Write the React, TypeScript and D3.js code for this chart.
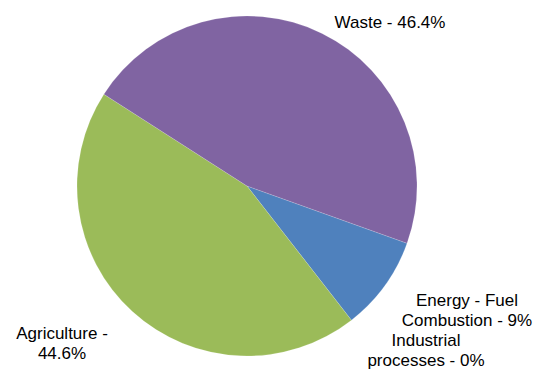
import React from "react";
import * as d3 from "d3";

const categories = ["Energy - Fuel Combustion", "Industrial processes", "Agriculture", "Waste"];
const values = [9.0, 0.0, 44.6, 46.4];
const labelLines = [
  ["Energy - Fuel", "Combustion - 9%"],
  ["Industrial", "processes - 0%"],
  ["Agriculture -", "44.6%"],
  ["Waste - 46.4%"],
];
const colors = ["#4F81BD", "#C0504D", "#9BBB59", "#8064A2"];

// label layout (center x, first baseline y)
const labelPos = [
  { x: 467, y: 305.5 },
  { x: 426, y: 345.5 },
  { x: 62, y: 339 },
  { x: 390, y: 28 },
];

const W = 536;
const H = 370;
const cx = 247;
const cy = 186;
const R = 170;
const startDeg = 109.7;

export default function App() {
  const data = categories.map((c, i) => ({ c, v: values[i], i }));
  const pie = d3
    .pie<any>()
    .value((d) => d.v)
    .sort(null)
    .startAngle((startDeg * Math.PI) / 180)
    .endAngle((startDeg * Math.PI) / 180 + 2 * Math.PI);
  const arcs = pie(data);
  const arc = d3.arc<any>().innerRadius(0).outerRadius(R);
  return (
    <svg
      width={W}
      height={H}
      style={{ position: "absolute", left: 0, top: 0, background: "#fff" }}
      fontFamily="Arial, 'Liberation Sans', sans-serif"
    >
      <g transform={`translate(${cx},${cy})`}>
        {arcs.map((a, i) =>
          a.data.v > 0 ? (
            <path
              key={i}
              d={arc(a) as string}
              fill={colors[i]}
              stroke="#ffffff"
              strokeOpacity={0.25}
              strokeWidth={0.6}
            />
          ) : null
        )}
      </g>
      {labelLines.map((lines, i) => (
        <text key={i} textAnchor="middle" fontSize={17} fill="#000">
          {lines.map((l, j) => (
            <tspan key={j} x={labelPos[i].x} y={labelPos[i].y + j * 20}>
              {l}
            </tspan>
          ))}
        </text>
      ))}
    </svg>
  );
}
